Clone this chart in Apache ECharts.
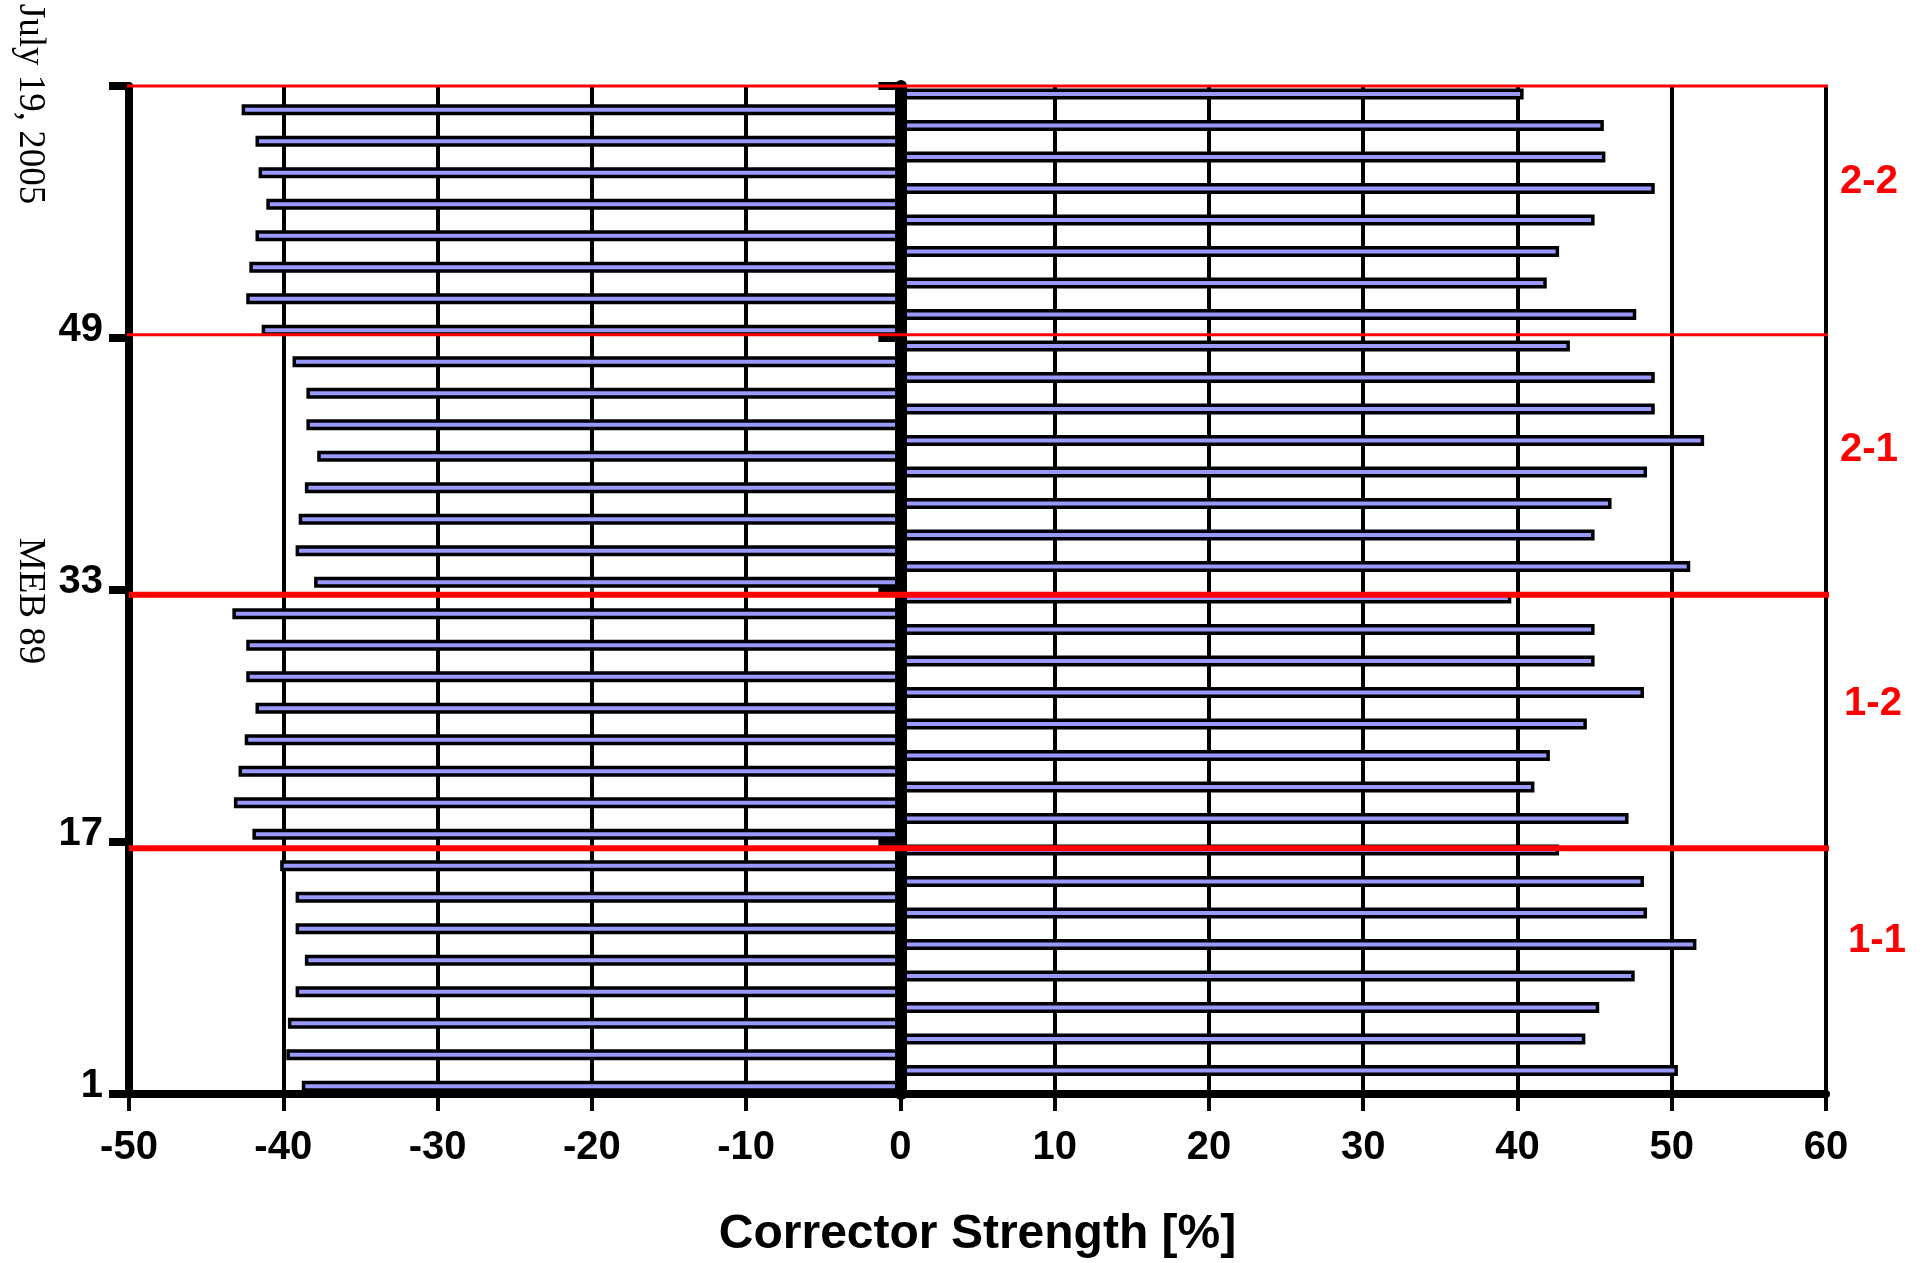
<!DOCTYPE html>
<html><head><meta charset="utf-8">
<script src="https://cdn.jsdelivr.net/npm/echarts@6/dist/echarts.min.js"></script>
<style>html,body{margin:0;padding:0;background:#fff}#c{width:1927px;height:1263px}</style>
</head><body><div id="c"></div>
<script>
// Corrector slots, bottom (1) to top (64)
const slotLabels = [];
for (let i = 1; i <= 64; i++) slotLabels.push(String(i));
const yTickLabels = ['1', '17', '33', '49'];

// Negative correctors (odd slots from bottom: 1,3,5,...)
const negStrength = [-38.8,-39.8,-39.7,-39.2,-38.6,-39.2,-39.2,-40.2,
                     -42.0,-43.2,-42.9,-42.5,-41.8,-42.4,-42.4,-43.3,
                     -38.0,-39.2,-39.0,-38.6,-37.8,-38.5,-38.5,-39.4,
                     -41.4,-42.4,-42.2,-41.8,-41.1,-41.6,-41.8,-42.7];
// Positive correctors (even slots from bottom: 2,4,6,...)
const posStrength = [50.4,44.4,45.3,47.6,51.6,48.4,48.2,42.7,
                     47.2,41.1,42.1,44.5,48.2,45.0,45.0,39.6,
                     51.2,45.0,46.1,48.4,52.1,48.9,48.9,43.4,
                     47.7,41.9,42.7,45.0,48.9,45.7,45.6,40.4];

const xMin = -50, xMax = 60, xStep = 10;
const groupNames = ['1-1', '1-2', '2-1', '2-2'];
const groupLineLevels = [15.6, 31.7, 48.2, 64.0];

const negData = [], posData = [];
for (let i = 0; i < 64; i++) {
  if (i % 2 === 0) { negData.push(negStrength[i / 2]); posData.push('-'); }
  else { negData.push('-'); posData.push(posStrength[(i - 1) / 2]); }
}

const FONT = "'Liberation Sans', Arial, sans-serif";
const barStyle = { color: '#9999ff', borderColor: '#000', borderWidth: 3.5 };

const redSeries = groupLineLevels.map((lv, k) => ({
  type: 'line', xAxisIndex: 0, yAxisIndex: 2, clip: false, silent: true,
  symbol: 'none', z: 6,
  lineStyle: { color: '#ff0000', width: (k === 0 || k === 1) ? 6 : 3 },
  data: [[(k === 0 || k === 1) ? -50 : -50.7, lv], [(k === 0 || k === 1) ? 60.9 : 60.3, lv]]
}));

const chart = echarts.init(document.getElementById('c'), null, { renderer: 'canvas' });
chart.setOption({
  backgroundColor: '#fff',
  animation: false,
  grid: { left: 129, right: 101, top: 86, bottom: 169, containLabel: false, outerBoundsMode: 'none' },
  xAxis: {
    type: 'value', min: xMin, max: xMax, interval: xStep,
    name: 'Corrector Strength [%]', nameLocation: 'middle', nameGap: 117,
    nameTextStyle: { fontFamily: FONT, fontWeight: 'bold', fontSize: 48, color: '#000' },
    axisLine: { onZero: false, lineStyle: { color: '#000', width: 8 } },
    axisTick: { show: true, length: 17, lineStyle: { color: '#000', width: 4 } },
    axisLabel: { margin: 34, fontFamily: FONT, fontWeight: 'bold', fontSize: 40, color: '#000' },
    splitLine: { show: true, lineStyle: { color: '#000', width: 4 } }
  },
  yAxis: [
    {
      type: 'category', data: slotLabels, position: 'left', boundaryGap: true,
      axisLine: { onZero: false, lineStyle: { color: '#000', width: 8 } },
      axisTick: { show: true, length: 20, interval: (i) => i % 16 === 0, lineStyle: { color: '#000', width: 8 } },
      axisLabel: {
        margin: 26, interval: (i) => i % 16 === 0,
        formatter: (v) => yTickLabels.indexOf(v) >= 0 ? v : '',
        fontFamily: FONT, fontWeight: 'bold', fontSize: 40, color: '#000'
      },
      splitLine: { show: false }
    },
    {
      type: 'category', data: slotLabels, position: 'left', boundaryGap: true, z: 5,
      axisLine: { onZero: true, lineStyle: { color: '#000', width: 12 } },
      axisTick: { show: true, length: 22, interval: (i) => i % 16 === 0 && i > 0, lineStyle: { color: '#000', width: 8 } },
      axisLabel: { show: false },
      splitLine: { show: false }
    },
    { type: 'value', min: 0, max: 64, interval: 16, show: false, position: 'right' }
  ],
  series: [
    { type: 'bar', name: 'neg', xAxisIndex: 0, yAxisIndex: 0, data: negData,
      barWidth: 11, barGap: '-100%', itemStyle: barStyle, z: 2 },
    { type: 'bar', name: 'pos', xAxisIndex: 0, yAxisIndex: 0, data: posData,
      barWidth: 11, barGap: '-100%', itemStyle: barStyle, z: 2 }
  ].concat(redSeries),
  graphic: [
    { type: 'text', x: 30, y: 104, rotation: -Math.PI / 2,
      style: { text: 'July 19, 2005', fontFamily: "'Liberation Serif', 'Times New Roman', serif",
               fontSize: 37, fill: '#000', align: 'center', verticalAlign: 'middle' } },
    { type: 'text', x: 30, y: 601, rotation: -Math.PI / 2,
      style: { text: 'MEB 89', fontFamily: "'Liberation Serif', 'Times New Roman', serif",
               fontSize: 37, fill: '#000', align: 'center', verticalAlign: 'middle' } },
    { type: 'text', x: 1877, y: 941, style: { text: groupNames[0], fontFamily: FONT, fontWeight: 'bold', fontSize: 40, fill: '#ff0000', align: 'center', verticalAlign: 'middle' } },
    { type: 'text', x: 1873, y: 704, style: { text: groupNames[1], fontFamily: FONT, fontWeight: 'bold', fontSize: 40, fill: '#ff0000', align: 'center', verticalAlign: 'middle' } },
    { type: 'text', x: 1869, y: 450, style: { text: groupNames[2], fontFamily: FONT, fontWeight: 'bold', fontSize: 40, fill: '#ff0000', align: 'center', verticalAlign: 'middle' } },
    { type: 'text', x: 1869, y: 182, style: { text: groupNames[3], fontFamily: FONT, fontWeight: 'bold', fontSize: 40, fill: '#ff0000', align: 'center', verticalAlign: 'middle' } }
  ]
});
</script></body></html>
